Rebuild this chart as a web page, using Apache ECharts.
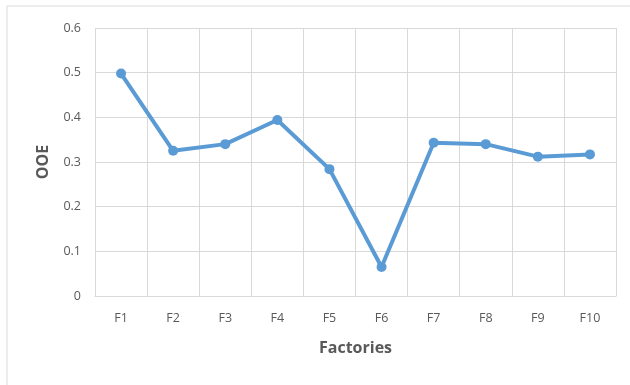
<!DOCTYPE html>
<html><head><meta charset="utf-8">
<script src="https://cdn.jsdelivr.net/npm/echarts@6/dist/echarts.min.js"></script>
<style>html,body{margin:0;padding:0;background:#fff}#c{width:630px;height:385px}</style>
</head><body><div id="c"></div>
<script>
var categories = ['F1','F2','F3','F4','F5','F6','F7','F8','F9','F10'];
var ooeValues = [0.498, 0.325, 0.340, 0.394, 0.284, 0.065, 0.343, 0.340, 0.312, 0.317];
var yAxisName = 'OOE';
var xAxisName = 'Factories';

var chart = echarts.init(document.getElementById('c'));
var font = 'Open Sans';
chart.setOption({
  animation: false,
  backgroundColor: '#fff',
  graphic: [{
    type: 'rect', shape: {x: 7, y: 6, width: 640, height: 400},
    style: {fill: 'none', stroke: '#d9d9d9', lineWidth: 1}, silent: true
  }],
  grid: {left: 95, right: 14, top: 28, bottom: 89, containLabel: false},
  xAxis: {
    type: 'category', data: categories, boundaryGap: true,
    name: xAxisName, nameLocation: 'middle', nameGap: 44,
    nameTextStyle: {fontFamily: font, fontSize: 16, fontWeight: 'bold', color: '#595959'},
    axisLine: {lineStyle: {color: '#d9d9d9', width: 1}},
    axisTick: {show: false},
    axisLabel: {margin: 16, fontFamily: font, fontSize: 12.5, color: '#595959'},
    splitLine: {show: true, lineStyle: {color: '#d9d9d9', width: 1}}
  },
  yAxis: {
    type: 'value', min: 0, max: 0.6, interval: 0.1,
    name: yAxisName, nameLocation: 'middle', nameGap: 44, nameRotate: 90,
    nameTextStyle: {fontFamily: font, fontSize: 16, fontWeight: 'bold', color: '#595959'},
    axisLine: {show: false}, axisTick: {show: false},
    axisLabel: {margin: 14, fontFamily: font, fontSize: 12.5, color: '#595959',
      formatter: function(v){ return String(Math.round(v*10)/10); }},
    splitLine: {show: true, lineStyle: {color: '#d9d9d9', width: 1}}
  },
  series: [{
    type: 'line', data: ooeValues,
    symbol: 'circle', symbolSize: 10,
    lineStyle: {color: '#5b9bd5', width: 4},
    itemStyle: {color: '#5b9bd5'}
  }]
});
</script></body></html>
